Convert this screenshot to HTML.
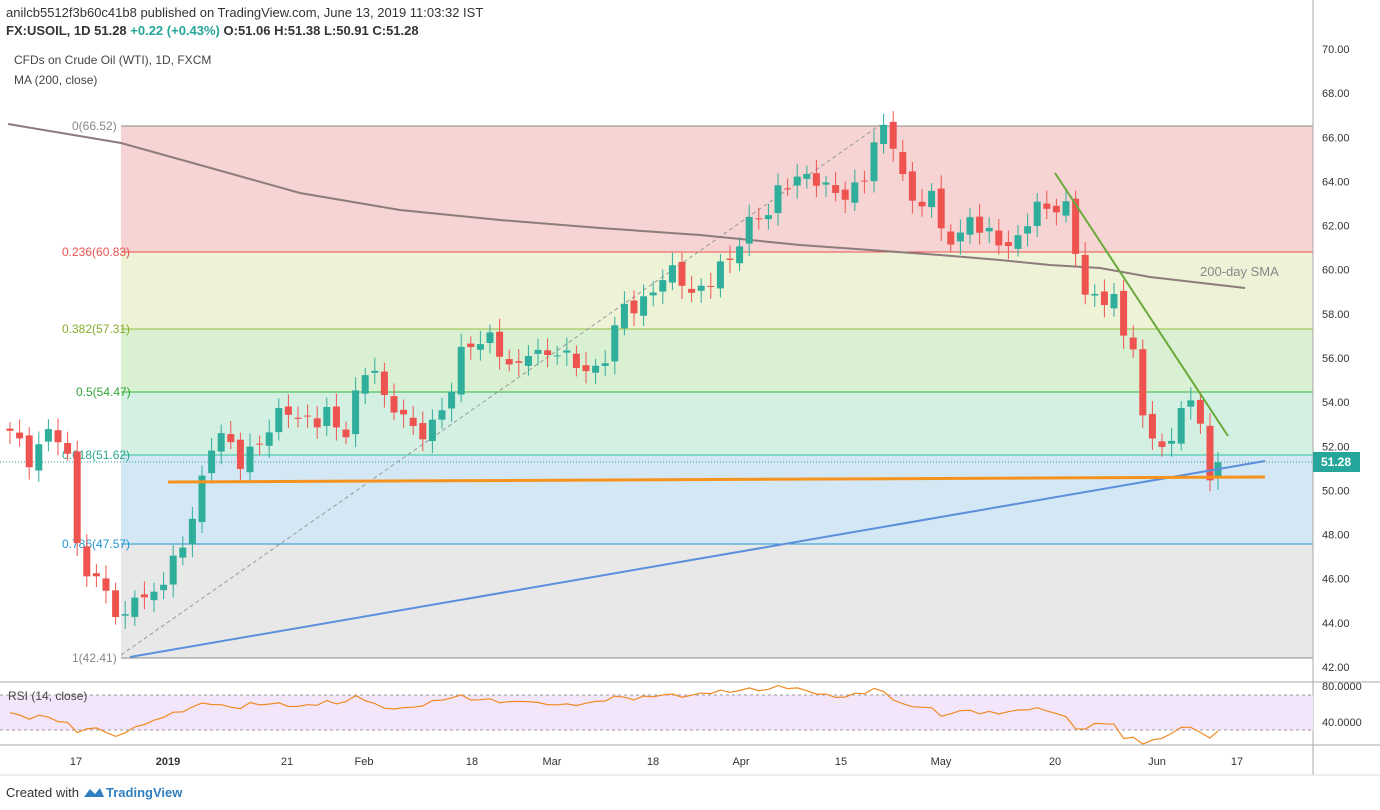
<!DOCTYPE html>
<html><head><meta charset="utf-8"><style>
body{margin:0;background:#fff;font-family:"Liberation Sans",Arial,sans-serif;}
svg{display:block}
text{font-family:"Liberation Sans",Arial,sans-serif}
</style></head><body>
<svg id="s" width="1380" height="810" xmlns="http://www.w3.org/2000/svg">
<rect width="1380" height="810" fill="#fff"/>
<rect x="121" y="126" width="1192" height="126" fill="#f6d4d3"/>
<rect x="121" y="252" width="1192" height="77" fill="#eef3d8"/>
<rect x="121" y="329" width="1192" height="63" fill="#d9f0d3"/>
<rect x="121" y="392" width="1192" height="63" fill="#d4f0e3"/>
<rect x="121" y="455" width="1192" height="89" fill="#d4e7f4"/>
<rect x="121" y="544" width="1192" height="114" fill="#e8e8e8"/>
<line x1="121" y1="126" x2="1313" y2="126" stroke="#888" stroke-width="1"/>
<line x1="121" y1="252" x2="1313" y2="252" stroke="#e8554e" stroke-width="1"/>
<line x1="121" y1="329" x2="1313" y2="329" stroke="#95bd3c" stroke-width="1"/>
<line x1="121" y1="392" x2="1313" y2="392" stroke="#33b53a" stroke-width="1"/>
<line x1="121" y1="455" x2="1313" y2="455" stroke="#2ec4a0" stroke-width="1"/>
<line x1="121" y1="544" x2="1313" y2="544" stroke="#2196d3" stroke-width="1"/>
<line x1="121" y1="658" x2="1313" y2="658" stroke="#888" stroke-width="1"/>
<g font-size="12">
<text x="72" y="130" fill="#888">0(66.52)</text>
<text x="62" y="256" fill="#e8554e">0.236(60.83)</text>
<text x="62" y="333" fill="#86ac2c">0.382(57.31)</text>
<text x="76" y="396" fill="#33a53a">0.5(54.47)</text>
<text x="62" y="459" fill="#2aa88a">0.618(51.62)</text>
<text x="62" y="548" fill="#2196d3">0.786(47.57)</text>
<text x="72" y="662" fill="#888">1(42.41)</text>
</g>
<line x1="0" y1="462" x2="1313" y2="462" stroke="#26a69a" stroke-dasharray="1,2"/>
<line x1="121" y1="655" x2="880" y2="125" stroke="#999" stroke-dasharray="4,3"/>
<polyline fill="none" stroke="#8c7c7c" stroke-width="2" points="8,124 121,143 200,165 300,193 400,210 500,220 600,228 700,235 800,245 940,255 1000,260 1050,265 1100,268 1150,277 1245,288"/>
<text x="1200" y="276" font-size="13" fill="#888">200-day SMA</text>
<g id="c"></g>
<line x1="130" y1="657" x2="1265" y2="461" stroke="#5b8fdb" stroke-width="2"/>
<line x1="168" y1="482" x2="1265" y2="477" stroke="#f6931e" stroke-width="3"/>
<line x1="1055" y1="173" x2="1228" y2="436" stroke="#6aaa3a" stroke-width="2"/>
<line x1="1313" y1="0" x2="1313" y2="775" stroke="#aaa"/>
<line x1="0" y1="682" x2="1380" y2="682" stroke="#aaa"/>
<line x1="0" y1="745" x2="1380" y2="745" stroke="#aaa"/>
<line x1="0" y1="775" x2="1380" y2="775" stroke="#ddd"/>
<g font-size="11" fill="#333" id="ax"></g>
<rect x="1313" y="452" width="47" height="20" fill="#26a69a"/>
<text x="1321" y="466" font-size="12" fill="#fff" font-weight="bold">51.28</text>
<rect x="0" y="695" width="1313" height="35" fill="#f3e6fa"/>
<line x1="0" y1="695" x2="1313" y2="695" stroke="#999" stroke-dasharray="3,3"/>
<line x1="0" y1="730" x2="1313" y2="730" stroke="#999" stroke-dasharray="3,3"/>
<polyline id="rsi" fill="none" stroke="#f08a24" stroke-width="1.2"/>
<text x="1322" y="690" font-size="11" fill="#333">80.0000</text>
<text x="1322" y="726" font-size="11" fill="#333">40.0000</text>
<text x="8" y="700" font-size="12" fill="#444">RSI (14, close)</text>
<text x="6" y="17" font-size="13" fill="#333">anilcb5512f3b60c41b8 published on TradingView.com, June 13, 2019 11:03:32 IST</text>
<text x="6" y="35" font-size="13" fill="#333" font-weight="bold">FX:USOIL, 1D  51.28  <tspan fill="#26a69a">+0.22 (+0.43%)</tspan> O:51.06 H:51.38 L:50.91 C:51.28</text>
<text x="14" y="64" font-size="12" fill="#444">CFDs on Crude Oil (WTI), 1D, FXCM</text>
<text x="14" y="84" font-size="12" fill="#444">MA (200, close)</text>
<text x="6" y="797" font-size="13" fill="#333">Created with</text>
<text x="106" y="797" font-size="13" fill="#2f7fc1" font-weight="bold">TradingView</text>
<path d="M84 797 l6 -8 l5 5 l5 -6 l4 9z" fill="#2f7fc1"/>
</svg>
<script>
var ns="http://www.w3.org/2000/svg";
function Y(p){return 49+(70-p)*22.07;}
var k=[[10,52.5],[30,51.5],[50,52.8],[66,51.8],[76,48],[90,46],[110,45.5],[121,42.6],[130,46],[145,45],[160,45.5],[172,46.5],[185,48],[200,50],[212,52],[225,52.5],[240,51.5],[260,52],[280,53.5],[292,54],[302,53],[320,53],[332,54],[340,52],[348,53.2],[362,55],[375,55.5],[385,54],[400,54],[410,52.5],[425,52.5],[432,53],[445,54],[460,56],[472,56.5],[490,57],[500,56.5],[515,55],[530,56.5],[545,56],[553,57],[560,56],[575,55.6],[595,55.5],[610,56.5],[620,58],[640,58.5],[650,59],[665,59.8],[680,59.5],[695,59],[705,59.3],[720,60],[730,60.2],[740,61.5],[752,62.5],[770,62.5],[780,63.5],[795,64.4],[810,64.2],[820,64],[830,63.2],[840,63.5],[855,63.8],[862,63.6],[870,65.5],[880,66],[890,66.3],[900,65],[910,63],[920,63],[930,63.3],[940,62.2],[945,61],[955,62],[965,61],[970,62.5],[980,61.5],[1000,61.6],[1010,61],[1020,61.5],[1030,62.3],[1040,62.8],[1050,63],[1065,63],[1070,62],[1075,61],[1082,58.8],[1092,58.5],[1100,59],[1115,58.8],[1125,56.5],[1134,56.5],[1140,53.2],[1150,52.6],[1160,52.8],[1167,51],[1175,52.5],[1182,54],[1190,54],[1200,53],[1210,51],[1218,51.28]];
var rk=[[8,712],[40,718],[76,722],[90,726],[121,735],[150,722],[200,708],[250,705],[300,706],[350,700],[400,708],[450,700],[500,700],[560,705],[620,700],[680,695],[740,692],[790,688],[840,697],[880,692],[900,700],[940,712],[1000,712],[1050,710],[1080,725],[1110,722],[1125,735],[1160,738],[1190,728],[1218,733]];
function interp(k,x){for(var i=1;i<k.length;i++){if(x<=k[i][0]){var a=k[i-1],b=k[i];return a[1]+(b[1]-a[1])*(x-a[0])/(b[0]-a[0]);}}return k[k.length-1][1];}
var g=document.getElementById('c');var prev=52.8;var rs=[];
for(var i=0;i<=126;i++){var x=10+i*9.6;if(x>1219)x=1218;
var c=interp(k,x)+0.35*Math.sin(i*2.3)+0.2*Math.cos(i*5.1);
if(i==126)c=51.28;var o=prev+0.15*Math.sin(i*3.7);
var up=c>=o;var col=up?"#2fae9c":"#ef5350";
var hi=Math.max(o,c)+0.3+0.3*Math.abs(Math.sin(i*1.7)),lo=Math.min(o,c)-0.3-0.3*Math.abs(Math.cos(i*1.3));
var l=document.createElementNS(ns,'line');l.setAttribute('x1',x);l.setAttribute('x2',x);l.setAttribute('y1',Y(hi));l.setAttribute('y2',Y(lo));l.setAttribute('stroke',col);g.appendChild(l);
var r=document.createElementNS(ns,'rect');var y1=Y(Math.max(o,c)),y2=Y(Math.min(o,c));r.setAttribute('x',x-3.5);r.setAttribute('width',7);r.setAttribute('y',y1);r.setAttribute('height',Math.max(1,y2-y1));r.setAttribute('fill',col);g.appendChild(r);
var ry=interp(rk,x)-(c-prev)*2.5;rs.push(x+','+ry.toFixed(1));
prev=c;}
document.getElementById('rsi').setAttribute('points',rs.join(' '));
var ax=document.getElementById('ax');
for(var p=42;p<=70;p+=2){var t=document.createElementNS(ns,'text');t.setAttribute('x',1322);t.setAttribute('y',Y(p)+4);t.textContent=p.toFixed(2);ax.appendChild(t);}
var d=[[76,"17"],[168,"2019"],[287,"21"],[364,"Feb"],[472,"18"],[552,"Mar"],[653,"18"],[741,"Apr"],[841,"15"],[941,"May"],[1055,"20"],[1157,"Jun"],[1237,"17"]];
d.forEach(function(a){var t=document.createElementNS(ns,'text');t.setAttribute('x',a[0]);t.setAttribute('y',765);t.setAttribute('text-anchor','middle');if(a[1]=="2019")t.setAttribute('font-weight','bold');t.textContent=a[1];ax.appendChild(t);});
</script>
</body></html>
